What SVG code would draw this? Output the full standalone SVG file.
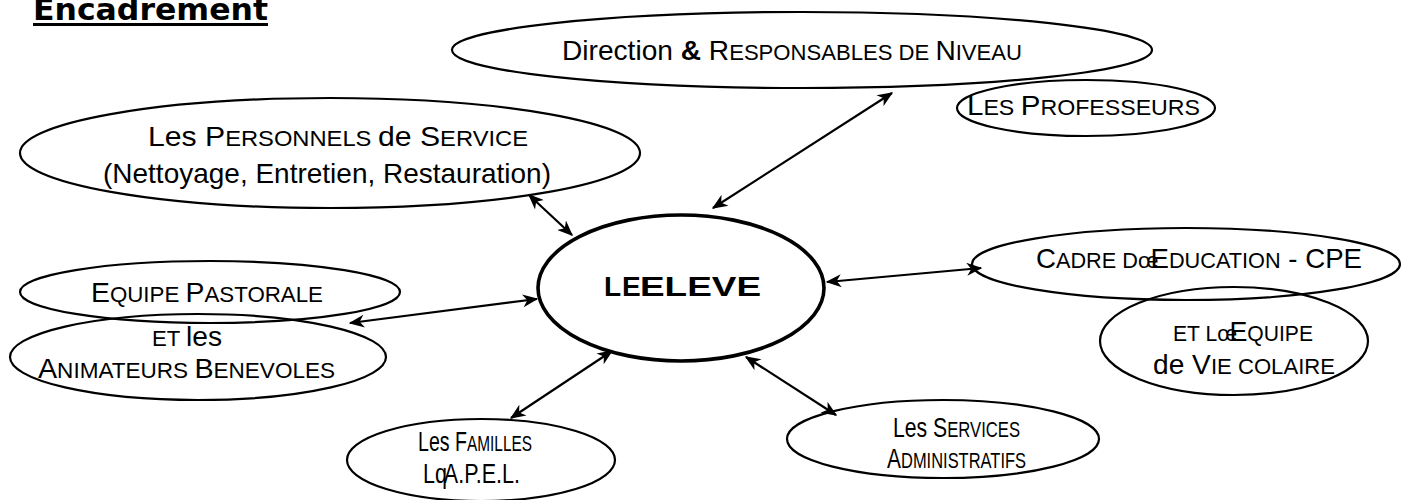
<svg xmlns="http://www.w3.org/2000/svg" width="1408" height="500" viewBox="0 0 1408 500">
<defs>
<style>
.n{fill:none;stroke:#000;stroke-width:2.2}
.c{fill:none;stroke:#000;stroke-width:3.6}
.t{font-family:"Liberation Sans",Arial,sans-serif;font-size:28px;fill:#000}
.s{font-size:22px}
.b{font-weight:bold}
.k{stroke:#000;stroke-width:2.2;fill:none;marker-start:url(#ah);marker-end:url(#ah)}
</style>
<marker id="ah" viewBox="0 0 12 10" refX="11" refY="5" markerWidth="16" markerHeight="13" markerUnits="userSpaceOnUse" orient="auto-start-reverse">
<path d="M0,0 L12,5 L0,10 L3.5,5 z" fill="#000"/>
</marker>
</defs>
<rect width="1408" height="500" fill="#fff"/>
<g id="title">
<text x="33" y="20" font-family="DejaVu Sans,Verdana,sans-serif" font-weight="bold" font-size="31" textLength="235" lengthAdjust="spacingAndGlyphs">Encadrement</text>
<rect x="33" y="23" width="235" height="3" fill="#000"/>
</g>
<g id="connectors">
<line class="k" x1="713" y1="208" x2="892" y2="93"/>
<line class="k" x1="529" y1="195" x2="572" y2="235"/>
<line class="k" x1="827" y1="282" x2="981" y2="268"/>
<line class="k" x1="350" y1="323" x2="537" y2="299"/>
<line class="k" x1="511" y1="418" x2="612" y2="351"/>
<line class="k" x1="746" y1="357" x2="836" y2="415"/>
</g>
<g id="direction">
<ellipse class="n" cx="802" cy="50" rx="350" ry="38"/>
<text class="t" x="562" y="60" textLength="460" lengthAdjust="spacingAndGlyphs">Direction <tspan class="b">&amp;</tspan> R<tspan class="s">ESPONSABLES DE </tspan>N<tspan class="s">IVEAU</tspan></text>
</g>
<g id="professeurs">
<ellipse class="n" cx="1086" cy="108" rx="129" ry="28"/>
<text class="t" x="967" y="115" textLength="233" lengthAdjust="spacingAndGlyphs">L<tspan class="s">ES </tspan>P<tspan class="s">ROFESSEURS</tspan></text>
</g>
<g id="personnels">
<ellipse class="n" cx="330" cy="153" rx="310" ry="55"/>
<text class="t" x="148" y="146" textLength="380" lengthAdjust="spacingAndGlyphs">Les P<tspan class="s">ERSONNELS </tspan>de S<tspan class="s">ERVICE</tspan></text>
<text class="t" x="103" y="183" textLength="448" lengthAdjust="spacingAndGlyphs">(Nettoyage, Entretien, Restauration)</text>
</g>
<g id="eleve">
<ellipse class="c" cx="681" cy="288" rx="143" ry="73"/>
<text class="t b" y="296" font-size="38"><tspan x="604">L</tspan><tspan x="622">E</tspan></text>
<text class="t b" x="640" y="296" font-size="38" textLength="121" lengthAdjust="spacingAndGlyphs">ELEVE</text>
</g>
<g id="cadre">
<ellipse class="n" cx="1186" cy="264" rx="214" ry="36"/>
<text class="t" x="1036" y="268" textLength="326" lengthAdjust="spacingAndGlyphs">C<tspan class="s">ADRE Dœ</tspan><tspan dx="-8">E</tspan><tspan class="s">DUCATION</tspan> - CPE</text>
</g>
<g id="viescolaire">
<ellipse class="n" cx="1234" cy="341" rx="134" ry="54"/>
<text class="t" x="1173" y="341" textLength="140" lengthAdjust="spacingAndGlyphs"><tspan class="s">ET Lœ</tspan><tspan dx="-8">E</tspan><tspan class="s">QUIPE</tspan></text>
<text class="t" x="1153" y="374" textLength="182" lengthAdjust="spacingAndGlyphs">de V<tspan class="s">IE COLAIRE</tspan></text>
</g>
<g id="pastorale">
<ellipse class="n" cx="210" cy="292" rx="190" ry="31"/>
<text class="t" x="91" y="302" textLength="232" lengthAdjust="spacingAndGlyphs">E<tspan class="s">QUIPE </tspan>P<tspan class="s">ASTORALE</tspan></text>
</g>
<g id="animateurs">
<ellipse class="n" cx="198" cy="357" rx="188" ry="43"/>
<text class="t" x="152" y="346" textLength="70" lengthAdjust="spacingAndGlyphs"><tspan class="s">ET </tspan>les</text>
<text class="t" x="38" y="378" textLength="297" lengthAdjust="spacingAndGlyphs">A<tspan class="s">NIMATEURS </tspan>B<tspan class="s">ENEVOLES</tspan></text>
</g>
<g id="familles">
<ellipse class="n" cx="481" cy="460" rx="134" ry="41"/>
<text class="t" x="418" y="451" textLength="114" lengthAdjust="spacingAndGlyphs">Les F<tspan class="s">AMILLES</tspan></text>
<text class="t" x="423" y="483" textLength="97" lengthAdjust="spacingAndGlyphs">Lq<tspan dx="-4">A.P.E.L.</tspan></text>
</g>
<g id="services">
<ellipse class="n" cx="943" cy="439" rx="156" ry="39"/>
<text class="t" x="893" y="437" textLength="127" lengthAdjust="spacingAndGlyphs">Les S<tspan class="s">ERVICES</tspan></text>
<text class="t" x="887" y="468" textLength="139" lengthAdjust="spacingAndGlyphs">A<tspan class="s">DMINISTRATIFS</tspan></text>
</g>
</svg>
